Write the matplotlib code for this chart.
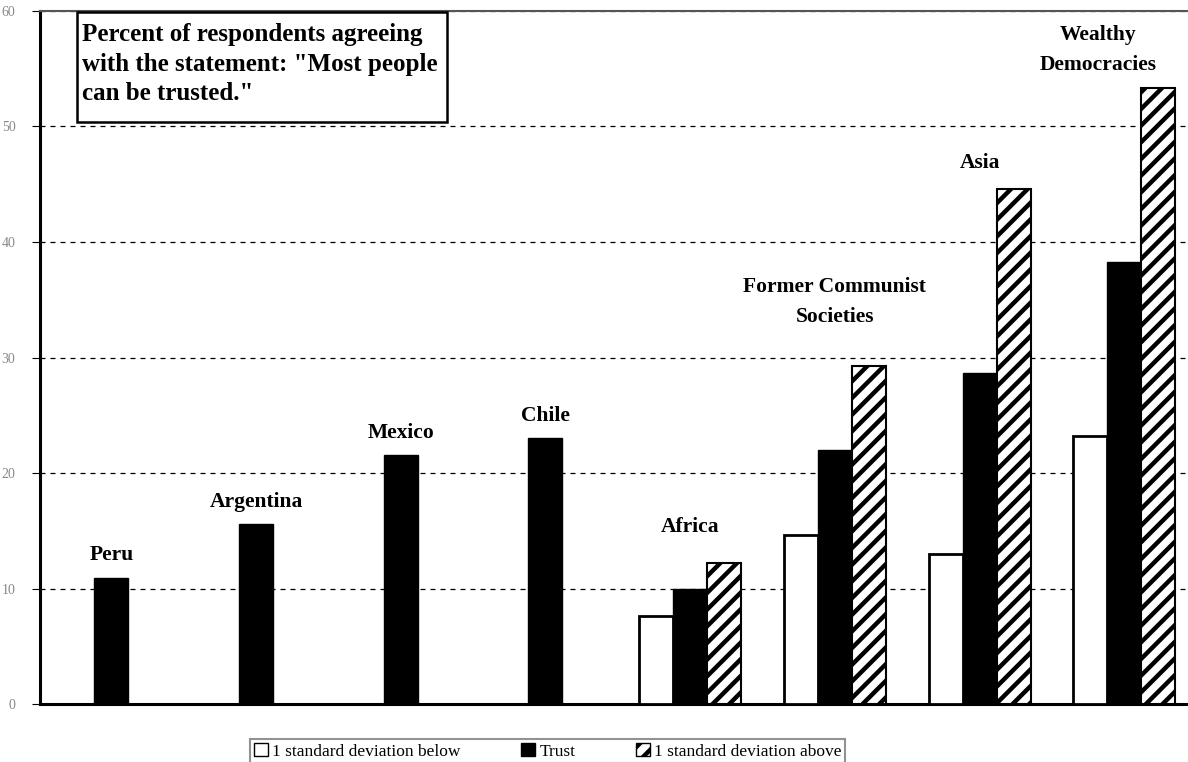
import numpy as np
import matplotlib
matplotlib.use("Agg")
import matplotlib.pyplot as plt
from matplotlib.patches import Patch, Rectangle

# data
categories = ["Peru", "Argentina", "Mexico", "Chile", "Africa",
              "Former Communist\nSocieties", "Asia", "Wealthy\nDemocracies"]
below = [np.nan, np.nan, np.nan, np.nan, 7.6, 14.6, 13.0, 23.2]
trust = [10.9, 15.6, 21.6, 23.0, 10.0, 22.0, 28.7, 38.3]
above = [np.nan, np.nan, np.nan, np.nan, 12.2, 29.3, 44.6, 53.3]
# where each group label sits (value units, centre of the label)
label_y = [12.9, 17.5, 23.5, 24.9, 15.3, 34.8, 46.8, 56.6]
yticks = [0, 10, 20, 30, 40, 50, 60]

plt.rcParams['font.family'] = ['Liberation Serif', 'DejaVu Serif']
plt.rcParams['hatch.linewidth'] = 3.2

fig = plt.figure(figsize=(11.88, 7.62), dpi=100)
ax = fig.add_axes([0.034, 0.076, 0.966, 0.9096])

x = np.arange(len(categories))
w = 0.235
ax.bar(x - w, below, w, color='white', edgecolor='black', linewidth=2, zorder=3)
ax.bar(x, trust, w, color='black', edgecolor='black', linewidth=1, zorder=3)
ax.bar(x + w, above, w, color='white', edgecolor='black', hatch='//',
       linewidth=1.5, zorder=3)

for i, name in enumerate(categories):
    xoff = -0.18 if i == len(categories) - 1 else 0
    ax.text(x[i] + xoff, label_y[i], name, ha='center', va='center',
            fontsize=15.5, fontweight='bold', linespacing=1.65)

ax.set_xlim(-0.49, 7.44)
ax.set_ylim(0, 60)
ax.set_yticks(yticks)
ax.set_yticklabels([str(t) for t in yticks], color='#888888', fontsize=10)
ax.set_xticks([])
ax.tick_params(axis='y', length=6, width=0.8, pad=12)
ax.yaxis.grid(True, linestyle=(0, (4, 4)), color='black', linewidth=0.9)
ax.set_axisbelow(True)

ax.spines['left'].set_linewidth(2.2)
ax.spines['bottom'].set_linewidth(2.2)
ax.spines['top'].set_linewidth(1.5)
ax.spines['top'].set_color('#555555')
ax.spines['right'].set_visible(False)

# boxed note in the top-left corner
ax.add_patch(Rectangle((0.0322, 0.8398), 0.3223, 0.1588, transform=ax.transAxes,
                       facecolor='white', edgecolor='black', linewidth=1.8, zorder=5))
ax.text(0.0366, 0.982,
        'Percent of respondents agreeing\nwith the statement: "Most people\ncan be trusted."',
        transform=ax.transAxes, ha='left', va='top', fontsize=18,
        fontweight='bold', linespacing=1.36, zorder=6)

handles = [Patch(facecolor='white', edgecolor='black', linewidth=1),
           Patch(facecolor='black', edgecolor='black'),
           Patch(facecolor='white', edgecolor='black', hatch='//', linewidth=1)]
labels = ['1 standard deviation below', 'Trust', '1 standard deviation above']
leg = fig.legend(handles, labels, loc='upper center', bbox_to_anchor=(0.461, 0.041),
                 ncol=3, frameon=True, fancybox=False, fontsize=12.5,
                 handlelength=0.8, handleheight=0.8, handletextpad=0.25,
                 columnspacing=3.5, borderpad=0.2)
leg.get_frame().set_edgecolor('#777777')
leg.get_frame().set_linewidth(1.5)

plt.savefig("out.png", dpi=100)
